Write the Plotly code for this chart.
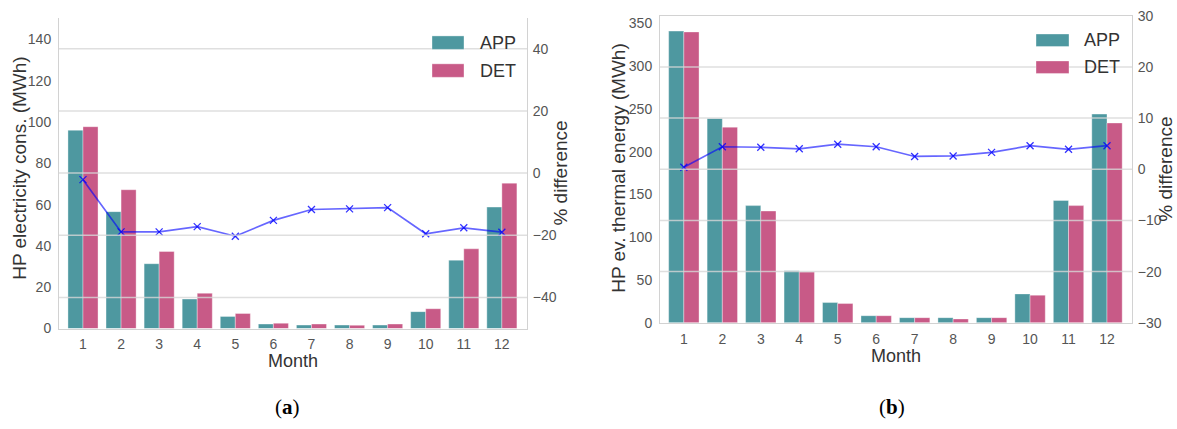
import plotly.graph_objects as go

W, H = 1177, 429

months = list(range(1, 13))
series_names = ["APP", "DET"]

# (a) heat pump electricity consumption, MWh
elec_app = [96.0, 56.6, 31.4, 14.3, 5.9, 2.2, 1.7, 1.7, 1.7, 8.2, 33.1, 58.8]
elec_det = [97.7, 67.2, 37.3, 17.1, 7.3, 2.6, 2.2, 1.6, 2.2, 9.6, 38.6, 70.4]
elec_diff = [-2.1, -18.9, -18.9, -17.2, -20.3, -15.2, -11.7, -11.5, -11.1, -19.5, -17.6, -19.0]

# (b) heat pump evaporator thermal energy, MWh
therm_app = [341, 238.8, 137, 60.8, 23.7, 8.3, 6.0, 6.0, 6.0, 33.8, 143, 244]
therm_det = [340, 228.7, 130.7, 59.3, 22.5, 8.3, 6.0, 4.5, 6.0, 32.3, 137, 233.6]
therm_diff = [0.4, 4.4, 4.3, 4.0, 4.9, 4.4, 2.5, 2.6, 3.3, 4.6, 3.9, 4.6]

elec_ticks = [0, 20, 40, 60, 80, 100, 120, 140]
elec_diff_ticks = [-40, -20, 0, 20, 40]
therm_ticks = [0, 50, 100, 150, 200, 250, 300, 350]
therm_diff_ticks = [-30, -20, -10, 0, 10, 20, 30]

C_APP = "#4e98a0"
C_DET = "#c85a87"
C_LINE = "rgba(0,0,255,0.6)"
C_SPINE = "#d2d2d2"
C_GRID = "rgba(215,215,215,0.8)"
C_TICK = "#555555"
C_TITLE = "#333333"
SANS = "Liberation Sans, Arial, sans-serif"


def px_x(p):
    return p / W


def px_y(p):
    return 1 - p / H


fig = go.Figure()

panels = [
    dict(x="x", y="y", y2="y2", app=elec_app, det=elec_det, diff=elec_diff),
    dict(x="x2", y="y3", y2="y4", app=therm_app, det=therm_det, diff=therm_diff),
]

for p in panels:
    for name, vals, col in zip(series_names, [p["app"], p["det"]], [C_APP, C_DET]):
        fig.add_trace(go.Bar(
            x=months, y=vals, name=name, xaxis=p["x"], yaxis=p["y"],
            marker=dict(color=col, line=dict(color="rgba(255,255,255,0.6)", width=0.6)),
            showlegend=False,
        ))
    fig.add_trace(go.Scatter(
        x=months, y=p["diff"], xaxis=p["x"], yaxis=p["y2"], mode="lines+markers",
        line=dict(color=C_LINE, width=1.7),
        marker=dict(symbol="x-thin", size=7, line=dict(color="rgba(0,0,255,0.8)", width=1.3)),
        showlegend=False,
    ))

tickfont = dict(family=SANS, size=14, color=C_TICK)

common_x = dict(
    tickmode="array", tickvals=months, ticktext=[str(m) for m in months],
    showgrid=False, zeroline=False, showline=True, linecolor=C_SPINE, linewidth=1,
    ticks="", tickfont=tickfont, ticklabelstandoff=3,
)
common_y = dict(
    showgrid=False, zeroline=False, showline=True, linecolor=C_SPINE, linewidth=1,
    ticks="", tickfont=tickfont, tickmode="array", ticklabeloverflow="allow",
)

dom_a_y = [px_y(333), px_y(10)]
dom_b_y = [px_y(327), px_y(8)]

fig.update_layout(
    width=W, height=H,
    margin=dict(l=0, r=0, t=0, b=0),
    paper_bgcolor="white", plot_bgcolor="white",
    barmode="group", bargap=0.21, bargroupgap=0.0,
    xaxis=dict(domain=[px_x(59), px_x(527)], range=[0.37, 12.66], anchor="y", **common_x),
    yaxis=dict(domain=dom_a_y, range=[0, 150.5], anchor="x",
               tickvals=elec_ticks, ticklabelstandoff=4, **common_y),
    yaxis2=dict(range=[-50, 50], overlaying="y", side="right", anchor="x",
                tickvals=elec_diff_ticks, ticklabelstandoff=2, **common_y),
    xaxis2=dict(domain=[px_x(660), px_x(1132)], range=[0.38, 12.65], anchor="y3",
                mirror=True, **common_x),
    yaxis3=dict(domain=dom_b_y, range=[0, 359], anchor="x2",
                tickvals=therm_ticks, ticklabelstandoff=4, **common_y),
    yaxis4=dict(range=[-30, 30], overlaying="y3", side="right", anchor="x2",
                tickvals=therm_diff_ticks, ticklabelstandoff=2, **common_y),
    showlegend=False,
)

shapes = []
# grid of the percentage axes, drawn over the bars
for v in elec_diff_ticks:
    shapes.append(dict(type="line", xref="x domain", yref="y2", x0=0, x1=1, y0=v, y1=v,
                       line=dict(color=C_GRID, width=1.5), layer="above"))
for v in therm_diff_ticks[1:-1]:
    shapes.append(dict(type="line", xref="x2 domain", yref="y4", x0=0, x1=1, y0=v, y1=v,
                       line=dict(color=C_GRID, width=1.5), layer="above"))

annotations = []

# legends
legend_boxes = [
    dict(x0=432, x1=464, rows=[(29, 43), (58, 72)], tx=478),
    dict(x0=1036, x1=1069, rows=[(27, 40), (55, 68)], tx=1082),
]
for lb in legend_boxes:
    for (y0, y1), name, col in zip(lb["rows"], series_names, [C_APP, C_DET]):
        shapes.append(dict(type="rect", xref="paper", yref="paper",
                           x0=px_x(lb["x0"]), x1=px_x(lb["x1"]), y0=px_y(y1), y1=px_y(y0),
                           fillcolor=col, line=dict(color="rgba(255,255,255,0.6)", width=0.6),
                           layer="above"))
        annotations.append(dict(x=px_x(lb["tx"]), y=px_y((y0 + y1) / 2), xref="paper", yref="paper",
                                text=name, showarrow=False, xanchor="left", yanchor="middle",
                                font=dict(family=SANS, size=18, color=C_TITLE)))


# axis titles
def title(text, x, y, angle=0, size=19):
    annotations.append(dict(x=px_x(x), y=px_y(y), xref="paper", yref="paper", text=text,
                            showarrow=False, textangle=angle, xanchor="center", yanchor="middle",
                            font=dict(family=SANS, size=size, color=C_TITLE)))


title("HP electricity cons. (MWh)", 20, 167, -90)
title("% difference", 561, 172, -90)
title("Month", 293, 367, 0, 18)
title("HP ev. thermal energy (MWh)", 619, 166, -90)
title("% difference", 1166, 168, -90)
title("Month", 896, 361, 0, 18)

# panel labels
for lbl, x in [("a", 287), ("b", 892)]:
    annotations.append(dict(x=px_x(x), y=px_y(414), xref="paper", yref="paper",
                            text=f"(<b>{lbl}</b>)", showarrow=False,
                            xanchor="center", yanchor="middle",
                            font=dict(family="Liberation Serif, DejaVu Serif, serif", size=21, color="black")))

fig.update_layout(shapes=shapes, annotations=annotations)

fig.write_html("out.html")
